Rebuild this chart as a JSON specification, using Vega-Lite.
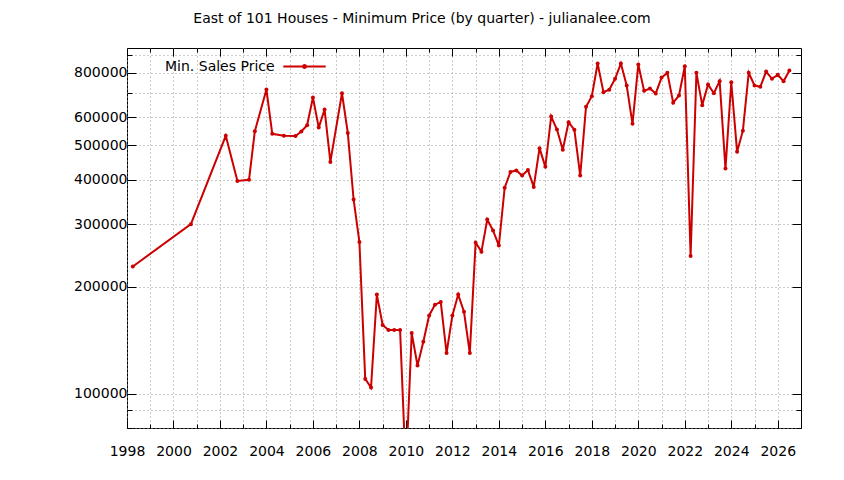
{
  "$schema": "https://vega.github.io/schema/vega-lite/v6.json",
  "width": 674,
  "height": 380,
  "autosize": "none",
  "padding": {"left": 127, "top": 48, "right": 43, "bottom": 52},
  "title": {
    "text": "East of 101 Houses - Minimum Price (by quarter) - julianalee.com",
    "font": "DejaVu Sans",
    "fontSize": 14,
    "fontWeight": "normal",
    "color": "#000",
    "anchor": "middle",
    "dx": -42,
    "offset": 18
  },
  "config": {
    "font": "DejaVu Sans",
    "view": {"stroke": "#000", "strokeWidth": 1},
    "axis": {
      "domain": false,
      "labelFont": "DejaVu Sans",
      "labelFontSize": 14,
      "labelColor": "#000",
      "labelOverlap": false,
      "labelFlush": false,
      "tickColor": "#000",
      "gridColor": "#999",
      "gridDash": [1, 3],
      "gridWidth": 1,
      "title": null
    }
  },
  "data": {
    "values": [
      {"year": 1998.25, "price": 228000},
      {"year": 2000.75, "price": 300000},
      {"year": 2002.25, "price": 532000},
      {"year": 2002.75, "price": 397000},
      {"year": 2003.25, "price": 400000},
      {"year": 2003.5, "price": 548000},
      {"year": 2004.0, "price": 718000},
      {"year": 2004.25, "price": 539000},
      {"year": 2004.75, "price": 532000},
      {"year": 2005.25, "price": 531000},
      {"year": 2005.5, "price": 547000},
      {"year": 2005.75, "price": 570000},
      {"year": 2006.0, "price": 682000},
      {"year": 2006.25, "price": 561000},
      {"year": 2006.5, "price": 631000},
      {"year": 2006.75, "price": 449000},
      {"year": 2007.25, "price": 701000},
      {"year": 2007.5, "price": 542000},
      {"year": 2007.75, "price": 352000},
      {"year": 2008.0, "price": 267000},
      {"year": 2008.25, "price": 110000},
      {"year": 2008.5, "price": 104000},
      {"year": 2008.75, "price": 190000},
      {"year": 2009.0, "price": 156000},
      {"year": 2009.25, "price": 151000},
      {"year": 2009.5, "price": 151000},
      {"year": 2009.75, "price": 151000},
      {"year": 2010.0, "price": 60000},
      {"year": 2010.25, "price": 148000},
      {"year": 2010.5, "price": 120000},
      {"year": 2010.75, "price": 140000},
      {"year": 2011.0, "price": 166000},
      {"year": 2011.25, "price": 178000},
      {"year": 2011.5, "price": 181000},
      {"year": 2011.75, "price": 130000},
      {"year": 2012.0, "price": 166000},
      {"year": 2012.25, "price": 190000},
      {"year": 2012.5, "price": 170000},
      {"year": 2012.75, "price": 130000},
      {"year": 2013.0, "price": 266000},
      {"year": 2013.25, "price": 251000},
      {"year": 2013.5, "price": 309000},
      {"year": 2013.75, "price": 288000},
      {"year": 2014.0, "price": 261000},
      {"year": 2014.25, "price": 380000},
      {"year": 2014.5, "price": 421000},
      {"year": 2014.75, "price": 425000},
      {"year": 2015.0, "price": 411000},
      {"year": 2015.25, "price": 426000},
      {"year": 2015.5, "price": 382000},
      {"year": 2015.75, "price": 491000},
      {"year": 2016.0, "price": 435000},
      {"year": 2016.25, "price": 603000},
      {"year": 2016.5, "price": 554000},
      {"year": 2016.75, "price": 486000},
      {"year": 2017.0, "price": 581000},
      {"year": 2017.25, "price": 553000},
      {"year": 2017.5, "price": 411000},
      {"year": 2017.75, "price": 642000},
      {"year": 2018.0, "price": 688000},
      {"year": 2018.25, "price": 850000},
      {"year": 2018.5, "price": 706000},
      {"year": 2018.75, "price": 717000},
      {"year": 2019.0, "price": 770000},
      {"year": 2019.25, "price": 850000},
      {"year": 2019.5, "price": 737000},
      {"year": 2019.75, "price": 575000},
      {"year": 2020.0, "price": 845000},
      {"year": 2020.25, "price": 712000},
      {"year": 2020.5, "price": 723000},
      {"year": 2020.75, "price": 700000},
      {"year": 2021.0, "price": 776000},
      {"year": 2021.25, "price": 800000},
      {"year": 2021.5, "price": 659000},
      {"year": 2021.75, "price": 691000},
      {"year": 2022.0, "price": 835000},
      {"year": 2022.25, "price": 244000},
      {"year": 2022.5, "price": 800000},
      {"year": 2022.75, "price": 649000},
      {"year": 2023.0, "price": 742000},
      {"year": 2023.25, "price": 701000},
      {"year": 2023.5, "price": 758000},
      {"year": 2023.75, "price": 430000},
      {"year": 2024.0, "price": 753000},
      {"year": 2024.25, "price": 480000},
      {"year": 2024.5, "price": 550000},
      {"year": 2024.75, "price": 800000},
      {"year": 2025.0, "price": 737000},
      {"year": 2025.25, "price": 731000},
      {"year": 2025.5, "price": 807000},
      {"year": 2025.75, "price": 770000},
      {"year": 2026.0, "price": 790000},
      {"year": 2026.25, "price": 758000},
      {"year": 2026.5, "price": 812000}
    ]
  },
  "layer": [
    {
      "mark": {"type": "line", "strokeWidth": 2, "clip": true, "point": {"filled": true, "size": 16, "clip": true}},
      "encoding": {
        "x": {
          "field": "year", "type": "quantitative",
          "scale": {"domain": [1998, 2027], "nice": false, "zero": false},
          "axis": {"orient": "bottom", "values": [1998, 2000, 2002, 2004, 2006, 2008, 2010, 2012, 2014, 2016, 2018, 2020, 2022, 2024, 2026], "format": "d", "tickSize": -8, "labelPadding": 24, "grid": false}
        },
        "y": {
          "field": "price", "type": "quantitative",
          "scale": {"type": "log", "domain": [80000, 940000], "nice": false, "zero": false},
          "axis": {"orient": "left", "values": [100000, 200000, 300000, 400000, 500000, 600000, 800000], "format": "d", "tickSize": -9, "labelPadding": 9, "grid": false}
        },
        "color": {
          "datum": "Min. Sales Price",
          "scale": {"range": ["#cc0000"]},
          "legend": {
            "orient": "none",
            "legendX": 38,
            "legendY": -4,
            "title": "Min. Sales Price",
            "titleOrient": "left",
            "titleAnchor": "middle",
            "titleBaseline": "middle",
            "titleFontSize": 14,
            "titleFontWeight": "normal",
            "titleColor": "#000",
            "titleFont": "DejaVu Sans",
            "titlePadding": 7,
            "labelExpr": "''",
            "symbolType": "M-1,0H1M-0.07,0A0.07,0.07,0,1,1,0.07,0A0.07,0.07,0,1,1,-0.07,0Z",
            "symbolSize": 1800,
            "symbolStrokeWidth": 2,
            "symbolFillColor": "#cc0000",
            "symbolStrokeColor": "#cc0000",
            "encode": {"title": {"update": {"dy": {"value": 9}}}}
          }
        }
      }
    },
    {
      "mark": {"type": "point", "opacity": 0},
      "encoding": {
        "x": {"field": "year", "type": "quantitative",
          "axis": {"orient": "bottom", "values": [1998, 1999, 2000, 2001, 2002, 2003, 2004, 2005, 2006, 2007, 2008, 2009, 2010, 2011, 2012, 2013, 2014, 2015, 2016, 2017, 2018, 2019, 2020, 2021, 2022, 2023, 2024, 2025, 2026], "labels": false, "tickSize": -4, "grid": true}},
        "y": {"field": "price", "type": "quantitative",
          "axis": {"orient": "left", "values": [80000, 90000, 100000, 200000, 300000, 400000, 500000, 600000, 700000, 800000, 900000], "labels": false, "tickSize": -5, "grid": true}}
      }
    },
    {
      "mark": {"type": "point", "opacity": 0},
      "encoding": {
        "x": {"field": "year", "type": "quantitative",
          "axis": {"orient": "top", "values": [1998, 2000, 2002, 2004, 2006, 2008, 2010, 2012, 2014, 2016, 2018, 2020, 2022, 2024, 2026], "labels": false, "tickSize": -8, "grid": false}},
        "y": {"field": "price", "type": "quantitative",
          "axis": {"orient": "right", "values": [100000, 200000, 300000, 400000, 500000, 600000, 800000], "labels": false, "tickSize": -9, "grid": false}}
      }
    },
    {
      "mark": {"type": "point", "opacity": 0},
      "encoding": {
        "x": {"field": "year", "type": "quantitative",
          "axis": {"orient": "top", "values": [1999, 2001, 2003, 2005, 2007, 2009, 2011, 2013, 2015, 2017, 2019, 2021, 2023, 2025], "labels": false, "tickSize": -4, "grid": false}},
        "y": {"field": "price", "type": "quantitative",
          "axis": {"orient": "right", "values": [80000, 90000, 700000, 900000], "labels": false, "tickSize": -5, "grid": false}}
      }
    }
  ],
  "resolve": {"axis": {"x": "independent", "y": "independent"}}
}
